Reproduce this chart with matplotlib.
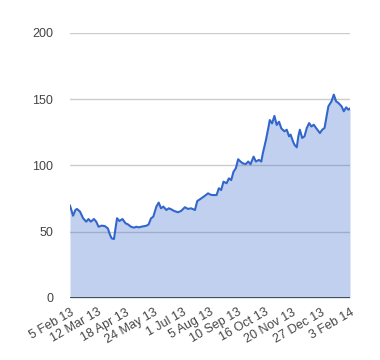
import datetime as dt
import matplotlib
matplotlib.use("Agg")
import matplotlib.pyplot as plt

# valeurs
dates = [
    "2013-02-05", "2013-02-09", "2013-02-12", "2013-02-14", "2013-02-18",
    "2013-02-22", "2013-02-26", "2013-03-01", "2013-03-04", "2013-03-08",
    "2013-03-11", "2013-03-14", "2013-03-18", "2013-03-22", "2013-03-26",
    "2013-03-29", "2013-03-31", "2013-04-03", "2013-04-05", "2013-04-07",
    "2013-04-10", "2013-04-14", "2013-04-18", "2013-04-21", "2013-04-25",
    "2013-04-29", "2013-05-02", "2013-05-05", "2013-05-10", "2013-05-15",
    "2013-05-18", "2013-05-21", "2013-05-24", "2013-05-28", "2013-05-31",
    "2013-06-03", "2013-06-06", "2013-06-10", "2013-06-13", "2013-06-16",
    "2013-06-20", "2013-06-25", "2013-06-29", "2013-07-04", "2013-07-08",
    "2013-07-12", "2013-07-17", "2013-07-20", "2013-07-24", "2013-07-30",
    "2013-08-03", "2013-08-06", "2013-08-09", "2013-08-14", "2013-08-17",
    "2013-08-20", "2013-08-23", "2013-08-27", "2013-08-30", "2013-09-02",
    "2013-09-05", "2013-09-08", "2013-09-11", "2013-09-14", "2013-09-17",
    "2013-09-21", "2013-09-24", "2013-09-27", "2013-10-01", "2013-10-04",
    "2013-10-08", "2013-10-11", "2013-10-13", "2013-10-17", "2013-10-20",
    "2013-10-22", "2013-10-25", "2013-10-28", "2013-10-31", "2013-11-03",
    "2013-11-06", "2013-11-10", "2013-11-13", "2013-11-16", "2013-11-18",
    "2013-11-21", "2013-11-23", "2013-11-26", "2013-11-28", "2013-11-30",
    "2013-12-03", "2013-12-06", "2013-12-09", "2013-12-12", "2013-12-15",
    "2013-12-18", "2013-12-21", "2013-12-26", "2013-12-29", "2014-01-01",
    "2014-01-04", "2014-01-06", "2014-01-10", "2014-01-13", "2014-01-16",
    "2014-01-19", "2014-01-23", "2014-01-26", "2014-01-29", "2014-02-01",
    "2014-02-03",
]
values = [
    69.7, 62.1, 66.4, 67.2, 65.2,
    60.2, 57.6, 59.6, 57.6, 59.6,
    57.6, 53.8, 54.6, 54.3, 52.6,
    47.5, 45.0, 44.5, 52.6, 60.2,
    58.1, 59.6, 56.4, 55.6, 53.8,
    53.1, 53.8, 53.3, 54.0, 54.5,
    55.6, 60.1, 61.4, 69.0, 72.0,
    67.7, 69.0, 66.4, 67.7, 67.0,
    65.7, 64.7, 65.7, 68.5, 67.2,
    67.7, 66.4, 73.2, 74.7, 77.2,
    79.0, 78.0, 77.7, 77.7, 82.8,
    81.5, 87.8, 86.6, 90.3, 89.0,
    95.3, 97.9, 104.7, 103.0, 101.6,
    101.1, 103.0, 100.9, 106.7, 103.0,
    104.2, 103.0, 109.2, 119.2, 128.0,
    134.3, 131.8, 137.4, 130.6, 133.0,
    128.0, 125.8, 127.0, 122.0, 123.3,
    118.3, 115.7, 113.7, 122.0, 127.0,
    120.8, 122.0, 128.3, 132.0, 129.4,
    130.8, 128.3, 124.5, 127.0, 128.3,
    138.3, 144.7, 148.4, 153.5, 148.4,
    147.2, 144.7, 140.9, 143.9, 142.1,
    143.0,
]
tick_dates = ["2013-02-05", "2013-03-12", "2013-04-18", "2013-05-24",
              "2013-07-01", "2013-08-05", "2013-09-10", "2013-10-16",
              "2013-11-20", "2013-12-27", "2014-02-03"]
tick_labels = ["5 Feb 13", "12 Mar 13", "18 Apr 13", "24 May 13", "1 Jul 13",
               "5 Aug 13", "10 Sep 13", "16 Oct 13", "20 Nov 13",
               "27 Dec 13", "3 Feb 14"]
y_ticks = [0, 50, 100, 150, 200]

plt.rcParams["font.family"] = ["Liberation Sans", "DejaVu Sans"]

x = [dt.datetime.strptime(d, "%Y-%m-%d") for d in dates]
xt = [dt.datetime.strptime(d, "%Y-%m-%d") for d in tick_dates]

fig = plt.figure(figsize=(3.8, 3.6), dpi=100)
ax = fig.add_axes([70 / 380, 1 - 298 / 360, 280 / 380, 265 / 360])

# grille sous l'aire (elle reste visible à travers la transparence)
for y in y_ticks[1:]:
    ax.axhline(y, color="#cccccc", lw=1, zorder=0)
ax.fill_between(x, values, 0, color="#3366cc", alpha=0.3, lw=0, zorder=1)
ax.plot(x, values, color="#3366cc", lw=1.5, zorder=2)
ax.axhline(0, color="#333333", lw=1.2, zorder=3)

ax.set_xlim(x[0], x[-1])
ax.set_ylim(0, 200)
ax.set_yticks(y_ticks)
ax.set_xticks(xt)
ax.set_xticklabels(tick_labels, rotation=30, ha="right",
                   rotation_mode="anchor")
ax.tick_params(axis="both", length=0, labelsize=9, labelcolor="#444444")
ax.tick_params(axis="y", pad=12)
ax.tick_params(axis="x", pad=6)
for s in ax.spines.values():
    s.set_visible(False)

fig.savefig("out.png", dpi=100)
